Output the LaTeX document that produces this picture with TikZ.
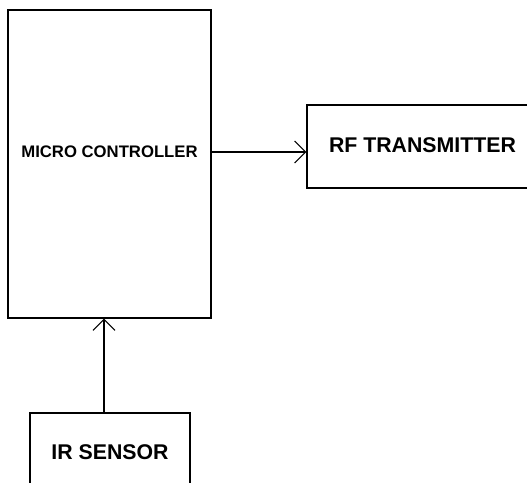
\documentclass[tikz,border=0pt]{standalone}
\usepackage{fontspec}
\setmainfont{Liberation Sans}
\usetikzlibrary{arrows.meta}

\tikzset{
	blk/.style={draw,line width=1.2pt,inner sep=0pt},
	lbl/.style={font=\bfseries\fontsize{#1}{#1}\selectfont,inner sep=0pt}
}

\begin{document}
\begin{tikzpicture}[>={Straight Barb[length=11pt,width=22pt]},x=1pt,y=-1pt]

\useasboundingbox (0,0) rectangle (527,482);
\clip (0,0) rectangle (527,482);

	\node[blk,minimum width=203pt,minimum height=308pt] (mc) at (109.5,164) {};
	\node[lbl=16.7] (mctext) at (109.5,152) {MICRO CONTROLLER};
	
	\node[blk,minimum width=300pt,minimum height=83pt] (rf) at (457,146.5) {};
	\node[lbl=21.3] (rftext) at (422.5,145) {RF TRANSMITTER};
	
	\node[blk,minimum width=160pt,minimum height=100pt] (ir) at (110,463) {};
	\node[lbl=21.3] (irtext) at (110,452) {IR SENSOR};
	
	\draw[->,line width=1.1pt] (mc.east |- mctext) -- (rf.west |- mctext);
	\draw[->,line width=1.1pt] ([xshift=-6pt]ir.north) -- ([xshift=-6pt]ir.north |- mc.south);
\end{tikzpicture}
\end{document}
